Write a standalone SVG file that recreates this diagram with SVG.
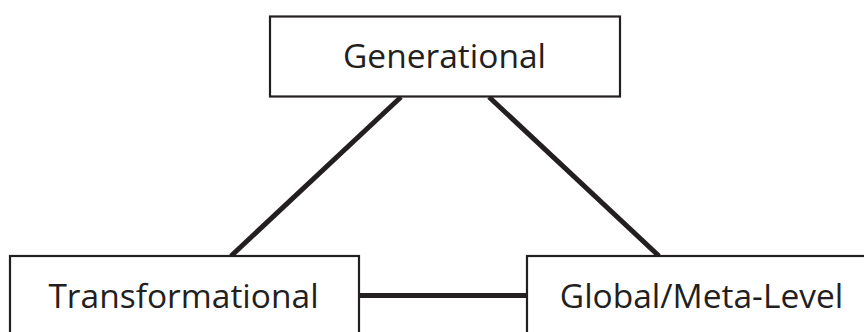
<svg xmlns="http://www.w3.org/2000/svg" width="864" height="332" viewBox="0 0 864 332">
<style>
.box{fill:#fff;stroke:#231f20;stroke-width:2.2}
.lbl{font-family:"Open Sans","Noto Sans",sans-serif;font-size:33.5px;fill:#231f20;text-anchor:middle}
.conn{stroke:#231f20;stroke-width:5;fill:none}
</style>
<rect width="864" height="332" fill="#fff"/>
<g id="connectors">
<line class="conn" x1="401" y1="97" x2="231" y2="256"/>
<line class="conn" x1="489" y1="97" x2="659" y2="256"/>
<line class="conn" x1="359" y1="295.5" x2="527" y2="295.5"/>
</g>
<g id="generational">
<rect class="box" x="270" y="16.5" width="350" height="80"/>
<text class="lbl" x="444.5" y="68">Generational</text>
</g>
<g id="transformational">
<rect class="box" x="10" y="256" width="349" height="90"/>
<text class="lbl" x="183.5" y="308">Transformational</text>
</g>
<g id="global-meta-level">
<rect class="box" x="527" y="256" width="360" height="90"/>
<text class="lbl" x="701.5" y="308">Global/Meta-Level</text>
</g>
</svg>
